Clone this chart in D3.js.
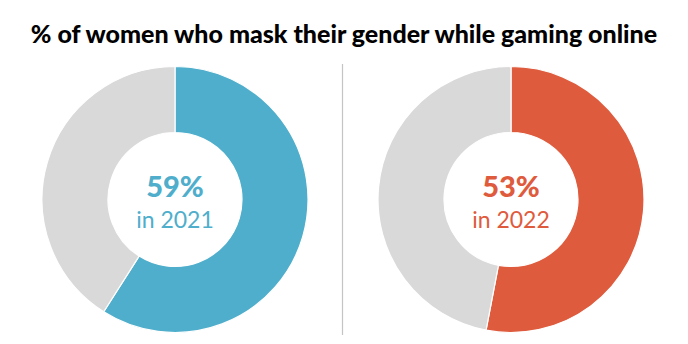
<!DOCTYPE html>
<html>
<head>
<meta charset="utf-8">
<script src="https://cdn.jsdelivr.net/npm/d3@7"></script>
<style>
  html, body { margin: 0; padding: 0; background: #fff; }
  svg { display: block; }
</style>
</head>
<body>
<svg id="chart" width="688" height="344"></svg>
<script>
// Share of women who mask their gender while gaming online, by survey year
const years = ["2021", "2022"];
const shares = [59, 53];
const colors = ["#4FAECB", "#DF5B3D"];
const restColor = "#D9D9D9";
const title = "% of women who mask their gender while gaming online";

const width = 688, height = 344;
const svg = d3.select("#chart");

svg.append("text")
  .attr("x", width / 2)
  .attr("y", 43)
  .attr("text-anchor", "middle")
  .attr("font-family", "Lato, 'Open Sans', sans-serif")
  .attr("font-weight", 900)
  .attr("font-size", 25)
  .attr("fill", "#000")
  .text(title);

// Horizontal placement of each donut
const x = d3.scalePoint().domain(years).range([175, 511]);
const cy = 199.5;
const outerR = 133, innerR = 67;

const pie = d3.pie().sort(null).value(d => d);
const arc = d3.arc().innerRadius(innerR).outerRadius(outerR);

// Divider between the two years
svg.append("line")
  .attr("x1", 342.5).attr("x2", 342.5)
  .attr("y1", 64).attr("y2", 335)
  .attr("stroke", "#C4C4C4")
  .attr("stroke-width", 1.2);

years.forEach((yr, i) => {
  const g = svg.append("g").attr("transform", `translate(${x(yr)},${cy})`);
  const slices = pie([shares[i], 100 - shares[i]]);
  g.selectAll("path")
    .data(slices)
    .join("path")
    .attr("d", arc)
    .attr("fill", (d, j) => j === 0 ? colors[i] : restColor)
    .attr("stroke", "#fff")
    .attr("stroke-width", 1.2);

  g.append("text")
    .attr("y", -3)
    .attr("text-anchor", "middle")
    .attr("font-family", "Lato, 'Open Sans', sans-serif")
    .attr("font-weight", 900)
    .attr("font-size", 29)
    .attr("fill", colors[i])
    .text(shares[i] + "%");

  g.append("text")
    .attr("y", 28)
    .attr("text-anchor", "middle")
    .attr("font-family", "Lato, 'Open Sans', sans-serif")
    .attr("font-weight", 400)
    .attr("font-size", 23)
    .attr("fill", colors[i])
    .text("in " + yr);
});
</script>
</body>
</html>
